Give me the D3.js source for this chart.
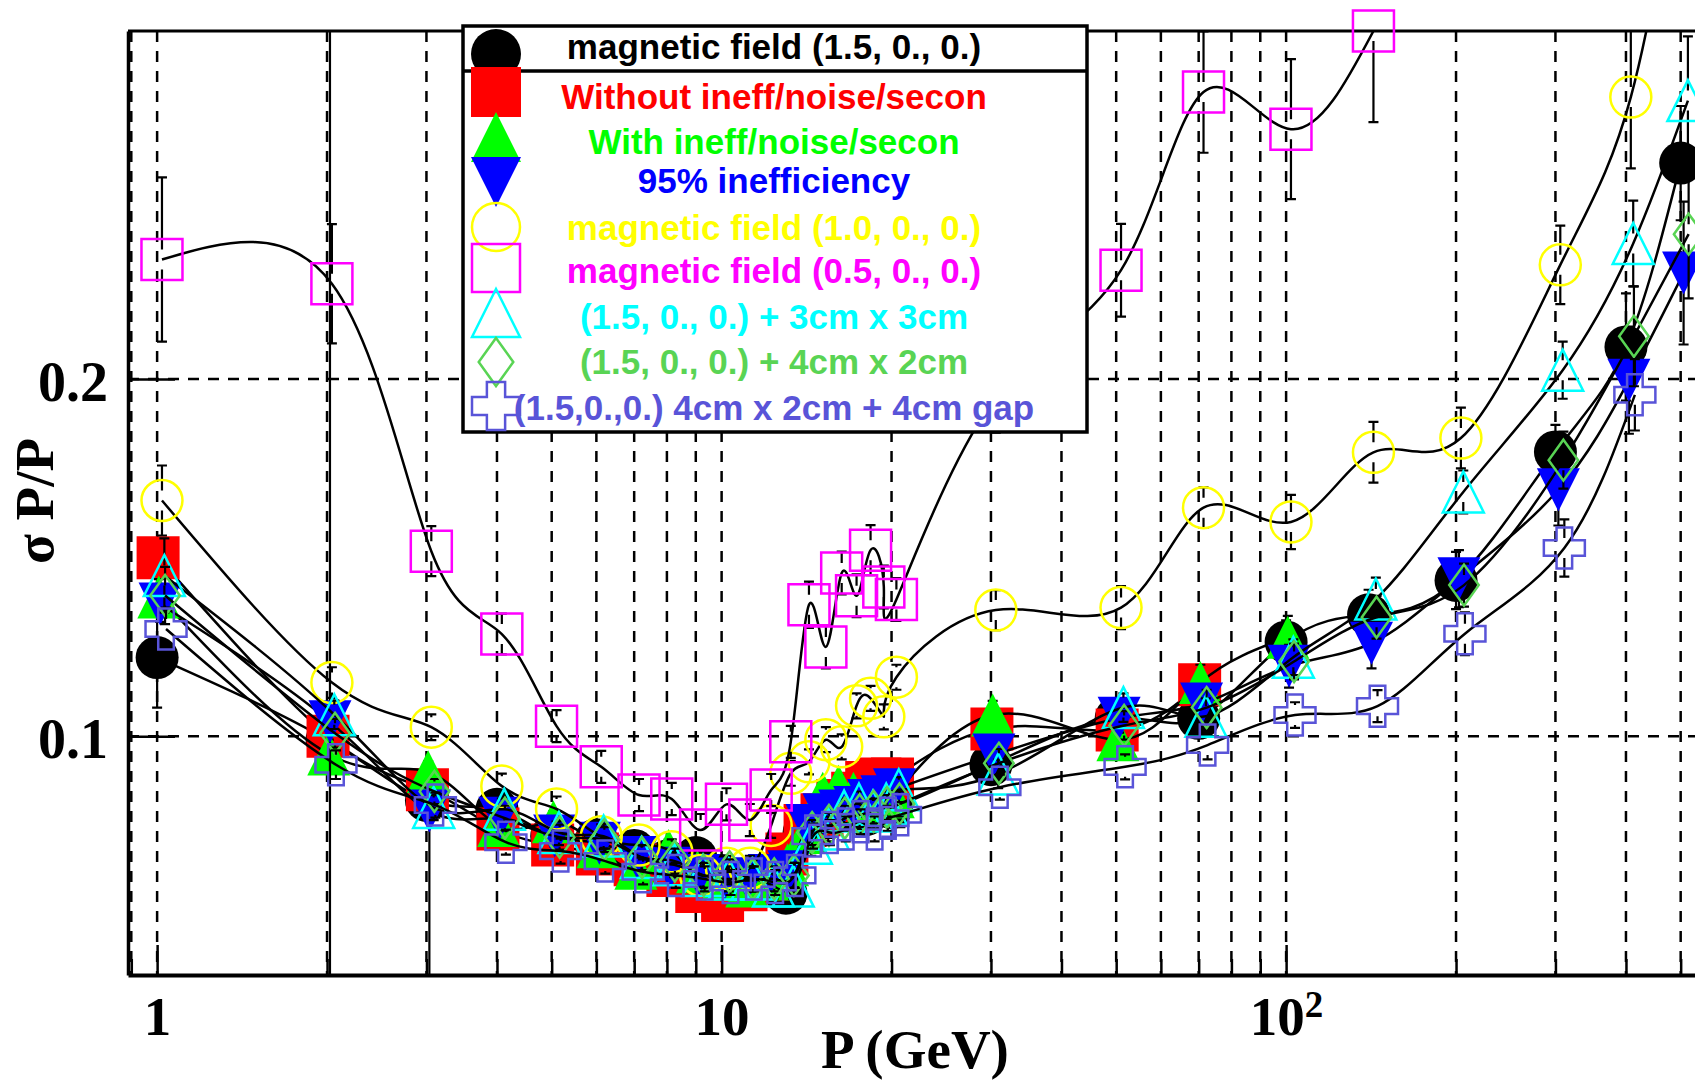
<!DOCTYPE html>
<html>
<head>
<meta charset="utf-8">
<script src="https://cdn.jsdelivr.net/npm/d3@7"></script>
<style>
  body { margin: 0; background: #fff; }
  svg { display: block; }
</style>
</head>
<body>
<svg id="chart" width="1695" height="1082"></svg>
<script>
const momenta = [1, 2, 3, 4, 5, 6, 7, 8, 9, 10, 11, 12, 13, 14, 15, 16, 17, 18, 19, 20, 30, 50, 70, 100, 140, 200, 300, 400, 500];

// sigma P / P for each setup, same order as momenta (shorter series stop early)
const fieldB15 = [0.122, 0.099, 0.082, 0.0795, 0.072, 0.071, 0.068, 0.065, 0.066, 0.061,
  0.060, 0.060, 0.056, 0.073, 0.077, 0.079, 0.080, 0.078, 0.081, 0.080,
  0.092, 0.105, 0.105, 0.1264, 0.134, 0.1436, 0.1796, 0.209, 0.2605];
const fieldB15Err = [0.014, 0.004, 0.003, 0.003, 0.003, 0.003, 0.003, 0.003, 0.003, 0.003,
  0.003, 0.003, 0.003, 0.003, 0.003, 0.003, 0.003, 0.003, 0.003, 0.003,
  0.004, 0.004, 0.005, 0.006, 0.007, 0.008, 0.0076, 0.015, 0.016];

const noIneff = [0.150, 0.100, 0.085, 0.074, 0.0695, 0.067, 0.064, 0.061, 0.0565, 0.054,
  0.057, 0.060, 0.067, 0.075, 0.078, 0.082, 0.084, 0.087, 0.088, 0.088,
  0.102, 0.1017, 0.1144];
const noIneffErr = [0.005, 0.004, 0.003, 0.003, 0.003, 0.003, 0.003, 0.003, 0.003, 0.003,
  0.003, 0.003, 0.003, 0.003, 0.003, 0.003, 0.003, 0.003, 0.003, 0.003,
  0.004, 0.004, 0.005];

const withIneff = [0.139, 0.095, 0.090, 0.075, 0.076, 0.069, 0.063, 0.068, 0.062, 0.060,
  0.058, 0.060, 0.064, 0.073, 0.084, 0.086, 0.084, 0.081, 0.083, 0.083,
  0.1059, 0.099, 0.115, 0.1277];
const withIneffErr = [0.005, 0.004, 0.003, 0.003, 0.003, 0.003, 0.003, 0.003, 0.003, 0.003,
  0.003, 0.003, 0.003, 0.003, 0.003, 0.003, 0.003, 0.003, 0.003, 0.003,
  0.004, 0.004, 0.005, 0.006];

const ineff95 = [0.137, 0.104, 0.079, 0.077, 0.072, 0.070, 0.066, 0.063, 0.061, 0.060,
  0.060, 0.061, 0.062, 0.075, 0.078, 0.079, 0.080, 0.082, 0.083, 0.085,
  0.0947, 0.105, 0.109, 0.1196, 0.126, 0.1441, 0.169, 0.1997, 0.2297];
const ineff95ErrLo = [0.005, 0.3, 0.1, 0.003, 0.003, 0.003, 0.003, 0.003, 0.003, 0.003,
  0.003, 0.003, 0.003, 0.003, 0.003, 0.003, 0.003, 0.003, 0.003, 0.003,
  0.004, 0.004, 0.005, 0.006, 0.007, 0.008, 0.01, 0.015, 0.02];
const ineff95ErrHi = [0.005, 0.3, 0, 0.003, 0.003, 0.003, 0.003, 0.003, 0.003, 0.003,
  0.003, 0.003, 0.003, 0.003, 0.003, 0.003, 0.003, 0.003, 0.003, 0.003,
  0.004, 0.004, 0.005, 0.006, 0.007, 0.008, 0.01, 0.015, 0.02];

const fieldB10 = [0.166, 0.115, 0.1025, 0.086, 0.0796, 0.0718, 0.0695, 0.0676, 0.061, 0.063,
  0.063, 0.075, 0.0896, 0.0928, 0.099, 0.097, 0.1085, 0.1106, 0.1054, 0.1165,
  0.1353, 0.136, 0.164, 0.160, 0.1795, 0.1835, 0.232, 0.279, 0.36];
const fieldB10Err = [0.0098, 0.0043, 0.0036, 0.0035, 0.0035, 0.0035, 0.0035, 0.0035, 0.0035, 0.0035,
  0.0035, 0.0035, 0.0035, 0.0035, 0.0035, 0.0035, 0.0035, 0.0035, 0.0035, 0.0035,
  0.0056, 0.006, 0.0057, 0.0076, 0.0085, 0.0085, 0.011, 0.02, 0.03];

const fieldB05 = [0.2335, 0.2267, 0.1518, 0.1286, 0.1028, 0.0914, 0.0835, 0.0824, 0.0737, 0.0809,
  0.0765, 0.0849, 0.0984, 0.1368, 0.125, 0.1457, 0.1393, 0.1521, 0.1418, 0.1383,
  0.195, 0.2305, 0.2804, 0.270, 0.2975];
const fieldB05Err = [0.023, 0.0167, 0.007, 0.0057, 0.0045, 0.0045, 0.0045, 0.0045, 0.0045, 0.0045,
  0.0045, 0.0045, 0.0045, 0.0065, 0.006, 0.006, 0.006, 0.007, 0.006, 0.006,
  0.01, 0.013, 0.017, 0.0196, 0.0255];

const pad3x3 = [0.145, 0.106, 0.080, 0.0795, 0.073, 0.072, 0.066, 0.064, 0.061, 0.060,
  0.060, 0.058, 0.058, 0.070, 0.074, 0.079, 0.081, 0.079, 0.081, 0.085,
  0.0894, 0.108, 0.1056, 0.1221, 0.1384, 0.1684, 0.2025, 0.238, 0.278];
const pad3x3Err = [0.0104, 0.004, 0.0035, 0.0035, 0.0035, 0.0035, 0.0035, 0.0035, 0.0035, 0.0035,
  0.0035, 0.0035, 0.0035, 0.0035, 0.0035, 0.0035, 0.0035, 0.0035, 0.0035, 0.0035,
  0.004, 0.004, 0.005, 0.005, 0.006, 0.006, 0.008, 0.012, 0.018];

const pad4x2 = [0.1394, 0.1008, 0.0845, 0.077, 0.0717, 0.071, 0.066, 0.065, 0.061, 0.062,
  0.060, 0.060, 0.061, 0.073, 0.075, 0.077, 0.078, 0.079, 0.080, 0.081,
  0.0924, 0.103, 0.108, 0.1209, 0.1333, 0.1423, 0.1773, 0.212, 0.2406];
const pad4x2Err = [0.008, 0.004, 0.0035, 0.0035, 0.0035, 0.0035, 0.0035, 0.0035, 0.0035, 0.0035,
  0.0035, 0.0035, 0.0035, 0.0035, 0.0035, 0.0035, 0.0035, 0.0035, 0.0035, 0.0035,
  0.004, 0.004, 0.005, 0.005, 0.006, 0.006, 0.008, 0.014, 0.018];

const pad4x2Gap = [0.130, 0.092, 0.0807, 0.0703, 0.0678, 0.065, 0.062, 0.061, 0.060, 0.059,
  0.060, 0.059, 0.061, 0.072, 0.073, 0.074, 0.076, 0.074, 0.077, 0.078,
  0.0857, 0.0914, 0.0975, 0.1059, 0.1084, 0.1287, 0.1527, 0.1956];
const pad4x2GapErr = [0.006, 0.004, 0.0035, 0.0035, 0.0035, 0.0035, 0.0035, 0.0035, 0.0035, 0.0035,
  0.0035, 0.0035, 0.0035, 0.0035, 0.0035, 0.0035, 0.0035, 0.0035, 0.0035, 0.0035,
  0.0035, 0.0035, 0.004, 0.0036, 0.0045, 0.006, 0.008, 0.01];

// points of each set are drawn slightly shifted in P
const pShift = [1, 1.004, 1.007, 1.012, 1.02, 1.02, 1.03, 1.033, 1.037];

const legendLabels = [
  'magnetic field (1.5, 0., 0.)',
  'Without ineff/noise/secon',
  'With ineff/noise/secon',
  '95% inefficiency',
  'magnetic field (1.0, 0., 0.)',
  'magnetic field (0.5, 0., 0.)',
  '(1.5, 0., 0.) + 3cm x 3cm',
  '(1.5, 0., 0.) + 4cm x 2cm',
  '(1.5,0.,0.) 4cm x 2cm + 4cm gap'
];

const xDomain = [0.888, 587];
const yDomain = [0.0331, 0.2975];
const xMajor = [1, 10, 100];
const xMinor = [0.9, 2, 3, 4, 5, 6, 7, 8, 9, 20, 30, 40, 50, 60, 70, 80, 90, 200, 300, 400, 500];
const yMajor = [0.1, 0.2];

const series = [
  { values: fieldB15, lo: fieldB15Err, hi: fieldB15Err, color: '#000000', shape: 'circle', filled: true },
  { values: noIneff, lo: noIneffErr, hi: noIneffErr, color: '#ff0000', shape: 'square', filled: true },
  { values: withIneff, lo: withIneffErr, hi: withIneffErr, color: '#00ff00', shape: 'up', filled: true },
  { values: ineff95, lo: ineff95ErrLo, hi: ineff95ErrHi, color: '#0000ff', shape: 'down', filled: true },
  { values: fieldB10, lo: fieldB10Err, hi: fieldB10Err, color: '#ffff00', shape: 'circle', filled: false },
  { values: fieldB05, lo: fieldB05Err, hi: fieldB05Err, color: '#ff00ff', shape: 'square', filled: false },
  { values: pad3x3, lo: pad3x3Err, hi: pad3x3Err, color: '#00ffff', shape: 'up', filled: false },
  { values: pad4x2, lo: pad4x2Err, hi: pad4x2Err, color: '#59d454', shape: 'diamond', filled: false },
  { values: pad4x2Gap, lo: pad4x2GapErr, hi: pad4x2GapErr, color: '#5954d8', shape: 'cross', filled: false }
].map((s, i) => ({
  ...s,
  label: legendLabels[i],
  points: s.values.map((v, j) => ({ p: momenta[j] * pShift[i], v, lo: s.lo[j], hi: s.hi[j] }))
}));

const W = 1695;
const H = 1082;
const plotLeft = 128;
const plotRight = 1720;
const plotTop = 31;
const plotBottom = 975;
const serif = "'Liberation Serif', 'Times New Roman', serif";
const sans = "'Liberation Sans', Arial, sans-serif";

// legend layout (pixel rows of markers and text centres)
const legendMarkerY = [54, 92, 137, 182, 227, 268, 313, 362, 406];
const legendTextY = [46.5, 97, 141.5, 180.5, 228, 271, 316.5, 362, 407.5];

const x = d3.scaleLog().domain(xDomain).range([plotLeft, plotRight]);
const y = d3.scaleLinear().domain(yDomain).range([plotBottom, plotTop]);

const shapePath = (shape, s) => {
  const h = s / 2;
  if (shape === 'circle') return `M${-h},0A${h},${h} 0 1,0 ${h},0A${h},${h} 0 1,0 ${-h},0Z`;
  if (shape === 'square') return `M${-h},${-h}H${h}V${h}H${-h}Z`;
  if (shape === 'up') return `M0,${-h}L${h},${h}H${-h}Z`;
  if (shape === 'down') return `M0,${h}L${h},${-h}H${-h}Z`;
  if (shape === 'diamond') return `M0,${-h}L${h * 0.72},0L0,${h}L${-h * 0.72},0Z`;
  const a = s * 0.19;
  return `M${-a},${-h}H${a}V${-a}H${h}V${a}H${a}V${h}H${-a}V${a}H${-h}V${-a}H${-a}Z`;
};

const svg = d3.select('svg#chart');
svg.append('rect').attr('width', W).attr('height', H).attr('fill', '#fff');

svg.append('defs').append('clipPath').attr('id', 'plot-clip')
  .append('rect')
  .attr('x', plotLeft).attr('y', plotTop)
  .attr('width', plotRight - plotLeft).attr('height', plotBottom - plotTop);

// dashed grid
const grid = svg.append('g')
  .attr('stroke', '#000')
  .attr('stroke-width', 2.5)
  .attr('stroke-dasharray', '11,9');
grid.selectAll('line.v')
  .data(xMajor.concat(xMinor))
  .join('line')
  .attr('class', 'v')
  .attr('x1', d => x(d)).attr('x2', d => x(d))
  .attr('y1', plotTop).attr('y2', plotBottom);
grid.selectAll('line.h')
  .data(yMajor)
  .join('line')
  .attr('class', 'h')
  .attr('x1', plotLeft).attr('x2', plotRight)
  .attr('y1', d => y(d)).attr('y2', d => y(d));

// axes
const xAxis = svg.append('g')
  .attr('transform', `translate(0,${plotBottom})`)
  .call(d3.axisBottom(x).tickValues(xMajor).tickSize(-30).tickSizeOuter(0).tickPadding(21)
    .tickFormat(d => (d === 100 ? '10' : String(d))));
xAxis.select('.domain').attr('stroke-width', 4);
xAxis.selectAll('.tick line').attr('stroke-width', 2.5);
xAxis.selectAll('.tick text')
  .attr('font-family', serif)
  .attr('font-weight', 'bold')
  .attr('font-size', 55)
  .attr('fill', '#000')
  .each(function (d) {
    if (d === 100) {
      d3.select(this).append('tspan')
        .attr('dy', '-0.5em')
        .attr('font-size', 37)
        .text('2');
    }
  });

svg.append('g')
  .attr('transform', `translate(0,${plotBottom})`)
  .call(d3.axisBottom(x).tickValues(xMinor).tickSize(-16).tickSizeOuter(0).tickFormat(''))
  .call(g => g.select('.domain').remove())
  .selectAll('.tick line').attr('stroke-width', 2.5);

const yAxis = svg.append('g')
  .attr('transform', `translate(${plotLeft},0)`)
  .call(d3.axisLeft(y).tickValues(yMajor).tickSize(-47).tickSizeOuter(0).tickPadding(20)
    .tickFormat(d3.format('.1f')));
yAxis.select('.domain').attr('stroke-width', 3.5);
yAxis.selectAll('.tick line').attr('stroke-width', 2.5);
yAxis.selectAll('.tick text')
  .attr('font-family', serif)
  .attr('font-weight', 'bold')
  .attr('font-size', 56)
  .attr('dy', '0.38em')
  .attr('fill', '#000');

svg.append('line')
  .attr('x1', plotLeft).attr('x2', plotRight)
  .attr('y1', plotTop).attr('y2', plotTop)
  .attr('stroke', '#000').attr('stroke-width', 3);

svg.append('text')
  .attr('x', 915).attr('y', 1068)
  .attr('text-anchor', 'middle')
  .attr('font-family', serif).attr('font-weight', 'bold').attr('font-size', 55)
  .text('P (GeV)');

svg.append('text')
  .attr('transform', 'translate(53,501) rotate(-90)')
  .attr('text-anchor', 'middle')
  .attr('font-family', serif).attr('font-weight', 'bold').attr('font-size', 55)
  .text('σ P/P');

// curves, error bars and markers, one set after the other
const line = d3.line()
  .x(d => x(d.p))
  .y(d => y(d.v))
  .curve(d3.curveNatural);
const gap = 10;
const cap = 5;
const markerSize = 43;

series.forEach(s => {
  const g = svg.append('g');

  g.append('path')
    .attr('clip-path', 'url(#plot-clip)')
    .attr('fill', 'none')
    .attr('stroke', '#000')
    .attr('stroke-width', 2.5)
    .attr('d', line(s.points));

  const bars = g.append('g')
    .attr('clip-path', 'url(#plot-clip)')
    .attr('stroke', '#000')
    .attr('stroke-width', 2.2)
    .attr('fill', 'none');
  bars.selectAll('path')
    .data(s.points)
    .join('path')
    .attr('d', d => {
      const cx = x(d.p);
      const cy = y(d.v);
      const yHi = y(d.v + d.hi) - cy;
      const yLo = y(d.v - d.lo) - cy;
      let path = '';
      if (d.hi > 0) {
        if (-yHi > gap) path += `M${cx},${cy - gap}V${cy + yHi}`;
        path += `M${cx - cap},${cy + yHi}H${cx + cap}`;
      }
      if (d.lo > 0) {
        if (yLo > gap) path += `M${cx},${cy + gap}V${cy + yLo}`;
        path += `M${cx - cap},${cy + yLo}H${cx + cap}`;
      }
      return path;
    });

  g.append('g')
    .selectAll('path')
    .data(s.points.filter(d => d.v <= yDomain[1] + 0.005))
    .join('path')
    .attr('transform', d => `translate(${x(d.p)},${y(d.v)})`)
    .attr('d', shapePath(s.shape, s.filled ? markerSize : markerSize - 2))
    .attr('fill', s.filled ? s.color : 'none')
    .attr('stroke', s.filled ? 'none' : s.color)
    .attr('stroke-width', s.filled ? 0 : 2.5);
});

// legend
const legend = svg.append('g');
legend.append('rect')
  .attr('x', 463).attr('y', 26)
  .attr('width', 624).attr('height', 406)
  .attr('fill', '#fff')
  .attr('stroke', '#000')
  .attr('stroke-width', 3.5);
legend.append('line')
  .attr('x1', 463).attr('x2', 1087)
  .attr('y1', 71).attr('y2', 71)
  .attr('stroke', '#000')
  .attr('stroke-width', 3.5);

legend.selectAll('path.key')
  .data(series)
  .join('path')
  .attr('class', 'key')
  .attr('transform', (d, i) => `translate(496,${legendMarkerY[i]})`)
  .attr('d', d => shapePath(d.shape, d.filled ? 50 : 48))
  .attr('fill', d => (d.filled ? d.color : 'none'))
  .attr('stroke', d => (d.filled ? 'none' : d.color))
  .attr('stroke-width', d => (d.filled ? 0 : 2.5));

legend.selectAll('text')
  .data(series)
  .join('text')
  .attr('x', 774)
  .attr('y', (d, i) => legendTextY[i] + 12)
  .attr('text-anchor', 'middle')
  .attr('font-family', sans)
  .attr('font-weight', 'bold')
  .attr('font-size', 35)
  .attr('fill', d => d.color)
  .text(d => d.label);
</script>
</body>
</html>
